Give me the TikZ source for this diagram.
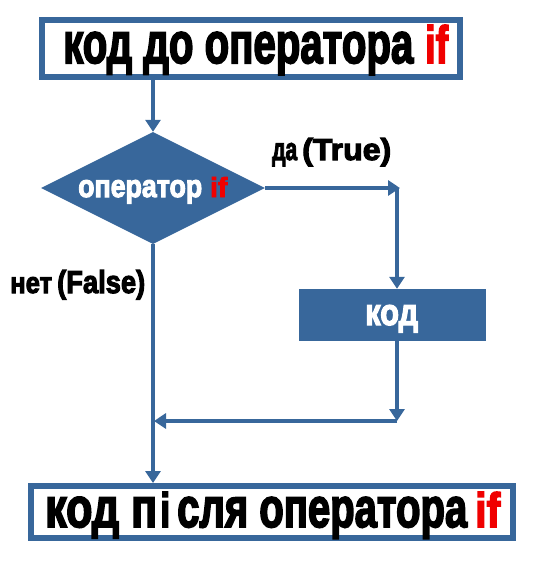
\documentclass[tikz,border=0pt]{standalone}
\usepackage{fontspec}
\setmainfont{Liberation Sans}
\newfontfamily\imp{Liberation Sans}[BoldFeatures={FakeBold=3.5}]
\usepackage{graphicx}
\usetikzlibrary{arrows.meta,shapes.geometric,calc}
\definecolor{fblue}{RGB}{56,103,155}
\definecolor{fred}{RGB}{240,0,0}
% \lw{width}{height above baseline}{text}
\newcommand\lw[3]{\resizebox{#1pt}{#2pt}{\imp\bfseries #3}}
\begin{document}
\begin{tikzpicture}[x=1pt,y=-1pt,
  framebox/.style={draw=fblue,line width=6pt,fill=white,inner sep=0pt},
  conn/.style={draw=fblue,line width=4pt,-{Triangle[width=15pt,length=12pt]}},
  txt/.style={inner sep=0pt,anchor=base west}]
\useasboundingbox (0,0) rectangle (540,568);
% boxes
\node[framebox,minimum width=418pt,minimum height=57pt] (top) at (251,48.5) {};
\node[framebox,minimum width=482pt,minimum height=52pt] (bot) at (272,512) {};
\node[fill=fblue,inner sep=0pt,minimum width=187pt,minimum height=52pt] (code) at (392.5,315) {};
\node[diamond,fill=fblue,inner sep=0pt,minimum width=224pt,minimum height=112pt] (dia) at (153,188) {};
% texts
\node[txt] (toptxt) at (63,63) {\lw{350}{31}{код до оператора}\hspace{12pt}\textcolor{fred}{\lw{23}{38}{if}}};
\node[txt] (bottxt) at (45,527) {\lw{112}{30}{код п}\hspace{3pt}\lw{10}{35}{і}\hspace{7pt}\lw{290}{30}{сля оператора}\hspace{8pt}\textcolor{fred}{\lw{25}{35}{if}}};
\node[txt,text=white] (diatxt) at (78,197) {\lw{124}{17}{оператор}\hspace{8pt}\textcolor{fred}{\lw{17}{20}{if}}};
\node[txt,text=white] (codetxt) at (365,325) {\lw{53}{20}{код}};
\node[txt] (yes) at (272,160) {\lw{25}{17}{да}\hspace{5pt}\lw{89}{22}{(True)}};
\node[txt] (no) at (10,293) {\lw{42}{16}{нет}\hspace{5pt}\lw{88}{23}{(False)}};
% connectors
\coordinate (c1) at (397,188);
\coordinate (c1tip) at (400,188);
\coordinate (c2) at (397,421);
\draw[conn] (top.south -| dia.north) -- (dia.north);
\draw[conn] (dia.east) -- (c1tip);
\draw[conn] (c1) -- (c1 |- code.north);
\draw[conn] (c1 |- code.south) -- (c2);
\draw[conn,shorten >=1pt] (c2) -- (c2 -| dia.south);
\draw[conn] (dia.south) -- (dia.south |- bot.north);
\end{tikzpicture}
\end{document}
